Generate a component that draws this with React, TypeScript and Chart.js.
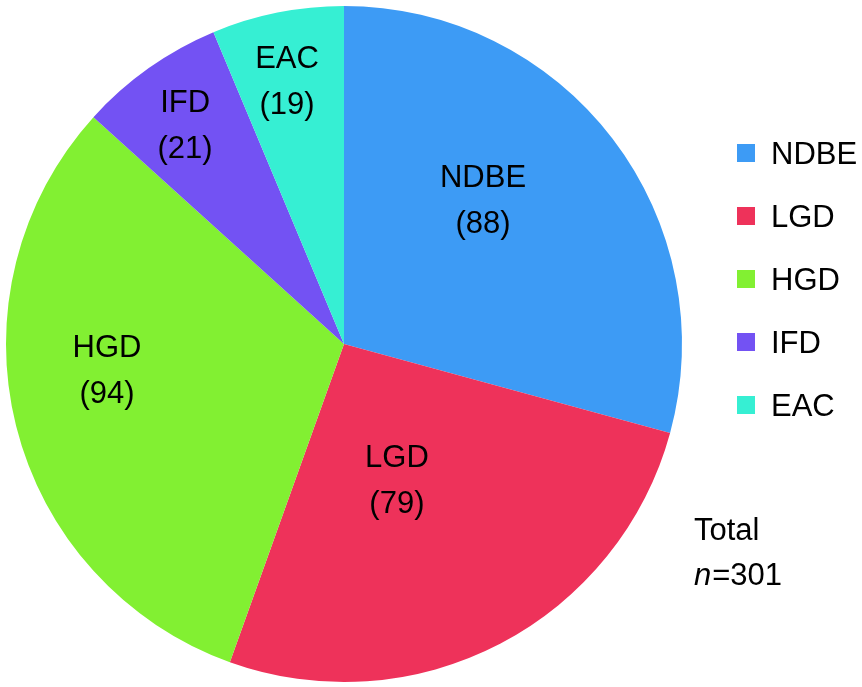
import React, { useEffect, useRef } from "react";
import { Chart, registerables } from "chart.js";

Chart.register(...registerables);

// ---- data ----
const categories: string[] = ["NDBE", "LGD", "HGD", "IFD", "EAC"];
const counts: number[] = [88, 79, 94, 21, 19];
const sliceColors: string[] = ["#3d9bf5", "#ee325a", "#82f032", "#7352f3", "#36efd3"];
const totalTitle = "Total";

// ---- layout constants (label placement: [angle offset from slice middle in deg, fraction of radius]) ----
const LABEL_PLACEMENT: [number, number][] = [
  [-8.9, 0.595],
  [6.1, 0.429],
  [8.1, 0.705],
  [-0.55, 0.803],
  [-0.8, 0.8],
];
const FAMILY = "'Liberation Sans', Arial, Helvetica, sans-serif";
const FONT = `31px ${FAMILY}`;

const labelPlugin = {
  id: "customLabels",
  afterDatasetsDraw(chart: any) {
    const ctx: CanvasRenderingContext2D = chart.ctx;
    const meta = chart.getDatasetMeta(0);
    ctx.save();
    ctx.fillStyle = "#000";
    ctx.font = FONT;
    ctx.textAlign = "center";
    ctx.textBaseline = "alphabetic";
    meta.data.forEach((arc: any, i: number) => {
      const p = arc.getProps(["x", "y", "startAngle", "endAngle", "outerRadius"], true);
      const [off, frac] = LABEL_PLACEMENT[i];
      const a = (p.startAngle + p.endAngle) / 2 + (off * Math.PI) / 180;
      const cx = p.x + Math.cos(a) * p.outerRadius * frac;
      const cy = p.y + Math.sin(a) * p.outerRadius * frac;
      ctx.fillText(chart.data.labels[i], cx, cy - 23 + 11);
      ctx.fillText(`(${chart.data.datasets[0].data[i]})`, cx, cy + 23 + 11);
    });

    // legend
    const colors = chart.data.datasets[0].backgroundColor as string[];
    ctx.textAlign = "left";
    chart.data.labels.forEach((lab: string, i: number) => {
      const cyL = 153 + i * 63;
      ctx.fillStyle = colors[i];
      ctx.fillRect(737, cyL - 9, 18, 18);
      ctx.fillStyle = "#000";
      ctx.fillText(lab, 771, cyL + 11);
    });

    // total
    const total = (chart.data.datasets[0].data as number[]).reduce((s, v) => s + v, 0);
    ctx.fillText(totalTitle, 694, 540);
    ctx.font = `italic 31px ${FAMILY}`;
    ctx.fillText("n", 694, 585);
    const nw = ctx.measureText("n").width;
    ctx.font = FONT;
    ctx.fillText(`=${total}`, 694 + nw + 1, 585);
    ctx.restore();
  },
};

export default function App() {
  const ref = useRef<HTMLCanvasElement | null>(null);
  useEffect(() => {
    document.body.style.margin = "0";
    const canvas = ref.current;
    if (!canvas) return;
    const chart = new Chart(canvas, {
      type: "pie",
      data: {
        labels: categories,
        datasets: [
          {
            data: counts,
            backgroundColor: sliceColors,
            borderWidth: 0,
          },
        ],
      },
      options: {
        responsive: false,
        animation: false,
        layout: { padding: { left: 6, top: 6, right: 180, bottom: 5 } },
        plugins: {
          legend: { display: false },
          tooltip: { enabled: false },
        },
      },
      plugins: [labelPlugin],
    });
    return () => chart.destroy();
  }, []);
  return (
    <div style={{ position: "fixed", left: 0, top: 0, width: 862, height: 687, background: "#fff" }}>
      <canvas ref={ref} width={862} height={687} style={{ width: 862, height: 687 }} />
    </div>
  );
}
